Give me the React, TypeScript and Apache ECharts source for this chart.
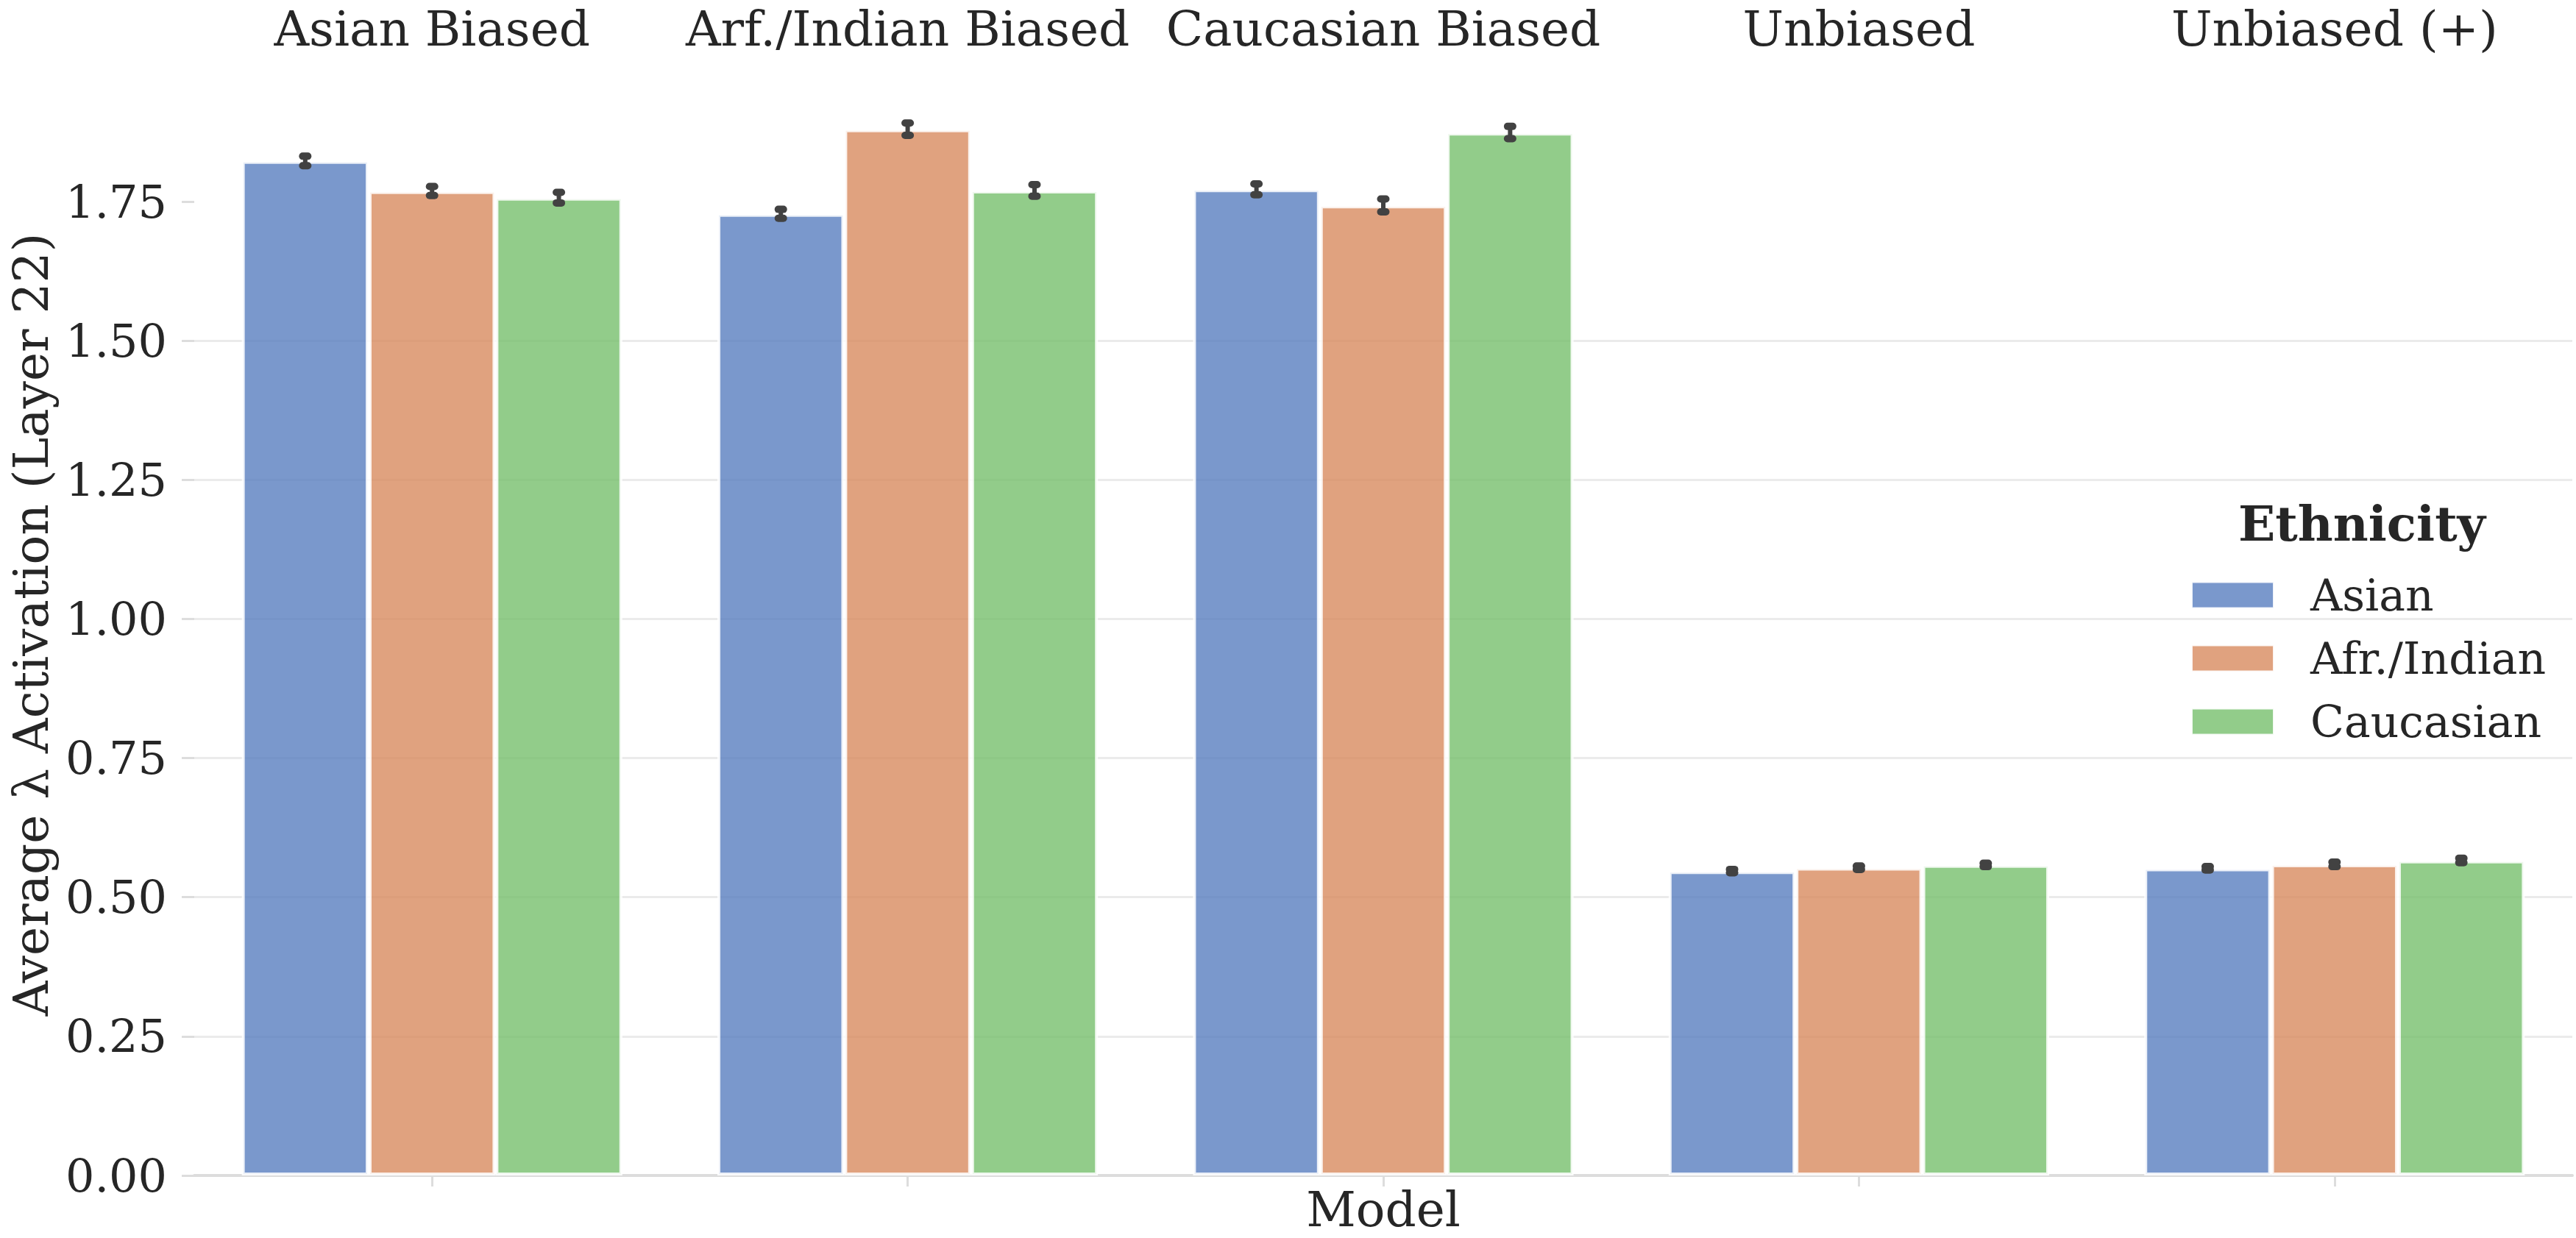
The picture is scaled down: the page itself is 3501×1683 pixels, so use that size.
import React, { useEffect, useRef } from "react";
import * as echarts from "echarts";

const categories = ["Asian Biased", "Arf./Indian Biased", "Caucasian Biased", "Unbiased", "Unbiased (+)"];
const ethnicities = ["Asian", "Afr./Indian", "Caucasian"];
const asianVals = [1.823, 1.728, 1.772, 0.547, 0.552];
const afrVals = [1.769, 1.88, 1.743, 0.553, 0.559];
const caucVals = [1.757, 1.77, 1.874, 0.558, 0.566];
const asianErr = [0.0085, 0.008, 0.0097, 0.003, 0.003];
const afrErr = [0.008, 0.011, 0.0116, 0.003, 0.004];
const caucErr = [0.0095, 0.0105, 0.011, 0.003, 0.004];
const yTicks = [0, 0.25, 0.5, 0.75, 1.0, 1.25, 1.5, 1.75];
const colors = ["rgba(89,126,191,0.8)", "rgba(216,139,95,0.8)", "rgba(119,191,109,0.8)"];

const FONT = "DejaVu Serif";
const TEXT = "#262626";

export default function App() {
  const ref = useRef<HTMLDivElement>(null);
  useEffect(() => {
    if (!ref.current) return;
    const chart = echarts.init(ref.current, null, { renderer: "svg" });
    const vals = [asianVals, afrVals, caucVals];
    const errs = [asianErr, afrErr, caucErr];
    const errData: number[][] = [];
    vals.forEach((arr, s) => arr.forEach((v, i) => errData.push([i, v, errs[s][i], s])));

    const option: any = {
      animation: false,
      backgroundColor: "#ffffff",
      grid: { left: 264, right: 5, top: 100, bottom: 85, containLabel: false, outerBoundsMode: "none" },
      legend: {
        data: ethnicities,
        orient: "vertical",
        left: 2973,
        top: 774,
        itemWidth: 111,
        itemHeight: 35,
        itemGap: 26,
        icon: "rect",
        textStyle: { fontFamily: FONT, fontSize: 60, color: TEXT, lineHeight: 60, padding: [0, 0, 0, 45] },
      },
      graphic: [
        {
          type: "text",
          x: 3210,
          y: 712,
          style: {
            text: "Ethnicity",
            textAlign: "center",
            textVerticalAlign: "middle",
            fontFamily: FONT,
            fontWeight: "bold",
            fontSize: 66,
            fill: TEXT,
          },
        },
      ],
      xAxis: [
        {
          type: "category",
          data: categories,
          position: "bottom",
          name: "Model",
          nameLocation: "middle",
          nameGap: 21,
          nameTextStyle: { fontFamily: FONT, fontSize: 66, color: TEXT, verticalAlign: "top", lineHeight: 50 },
          axisLine: { show: true, lineStyle: { color: "#DDDDDD", width: 4 } },
          axisTick: { show: true, alignWithLabel: true, length: 15, lineStyle: { color: "#DDDDDD", width: 3 } },
          axisLabel: { show: false },
          splitLine: { show: false },
        },
        {
          type: "category",
          data: categories,
          position: "top",
          axisLine: { show: false },
          axisTick: { show: false },
          axisLabel: { show: true, interval: 0, fontFamily: FONT, fontSize: 66, color: TEXT, margin: 26, lineHeight: 70 },
          splitLine: { show: false },
        },
      ],
      yAxis: {
        type: "value",
        min: 0,
        max: 1.98,
        interval: 0.25,
        name: "Average λ Activation (Layer 22)",
        nameLocation: "middle",
        nameGap: 189,
        nameRotate: 90,
        nameTextStyle: { fontFamily: FONT, fontSize: 66, color: TEXT, lineHeight: 66 },
        axisLine: { show: false },
        axisTick: { show: true, length: 17, customValues: yTicks, lineStyle: { color: "#DDDDDD", width: 3 } },
        axisLabel: {
          fontFamily: FONT,
          fontSize: 62,
          color: TEXT,
          margin: 37,
          customValues: yTicks,
          formatter: (v: number) => v.toFixed(2),
        },
        splitLine: { show: true, showMaxLine: false, lineStyle: { color: "#EBEBEB", width: 3 } },
      },
      series: [
        ...ethnicities.map((name, s) => ({
          name,
          type: "bar",
          xAxisIndex: 0,
          data: vals[s],
          barGap: "0%",
          barCategoryGap: "20%",
          itemStyle: { color: colors[s], borderColor: "rgba(255,255,255,0.85)", borderWidth: 4 },
          z: 2,
        })),
        {
          name: "err",
          type: "custom",
          xAxisIndex: 0,
          data: errData,
          z: 5,
          encode: { x: 0, y: 1 },
          renderItem: (params: any, api: any) => {
            const cat = api.value(0);
            const val = api.value(1);
            const err = api.value(2);
            const s = api.value(3);
            const band = api.size([1, 0])[0];
            const bw = (band * 0.8) / 3;
            const c = api.coord([cat, val]);
            const x = c[0] + (s - 1) * bw;
            const top = api.coord([cat, val + err])[1];
            const bot = api.coord([cat, val - err])[1];
            const col = "#424242";
            return {
              type: "group",
              children: [
                { type: "line", shape: { x1: x, y1: top, x2: x, y2: bot }, style: { stroke: col, lineWidth: 6 } },
                { type: "line", shape: { x1: x - 3.5, y1: top, x2: x + 3.5, y2: top }, style: { stroke: col, lineWidth: 10, lineCap: "round" } },
                { type: "line", shape: { x1: x - 3.5, y1: bot, x2: x + 3.5, y2: bot }, style: { stroke: col, lineWidth: 10, lineCap: "round" } },
              ],
            };
          },
        },
      ],
    };
    chart.setOption(option);
    return () => chart.dispose();
  }, []);
  return <div ref={ref} style={{ position: "absolute", left: 0, top: 0, width: 3501, height: 1683 }} />;
}
